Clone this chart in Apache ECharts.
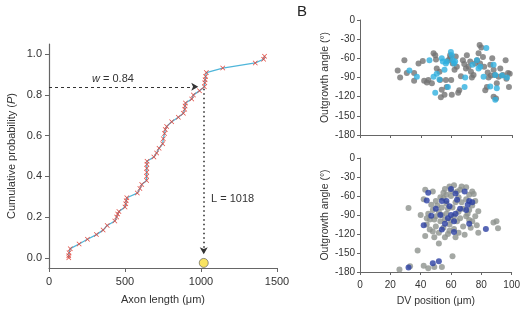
<!DOCTYPE html>
<html>
<head>
<meta charset="utf-8">
<script src="https://cdn.jsdelivr.net/npm/echarts@6/dist/echarts.min.js"></script>
<style>
  html, body { margin: 0; padding: 0; background: #fff; }
  #chart { width: 523px; height: 310px; }
</style>
</head>
<body>
<div id="chart"></div>
<script>
// panel A: cumulative curve
const axonLen = [130, 130, 132, 140, 198, 253, 312, 356, 383, 433, 445, 452, 460, 500, 505, 508, 512,
  581, 598, 610, 642, 642, 643, 643, 644, 645, 690, 708, 724, 748, 752, 760, 765, 774, 807, 851,
  884, 893, 895, 898, 939, 950, 990, 1022, 1025, 1027, 1030, 1035, 1143, 1357, 1412, 1418]
const cumProb = [0.0, 0.01, 0.025, 0.045, 0.068, 0.091, 0.114, 0.136, 0.159, 0.181, 0.2, 0.215, 0.227,
  0.25, 0.265, 0.28, 0.295, 0.318, 0.34, 0.36, 0.38, 0.4, 0.42, 0.44, 0.46, 0.474, 0.495, 0.515,
  0.538, 0.56, 0.585, 0.61, 0.63, 0.645, 0.668, 0.69, 0.71, 0.73, 0.745, 0.76, 0.78, 0.8, 0.82,
  0.84, 0.86, 0.875, 0.89, 0.91, 0.932, 0.957, 0.975, 0.99]
const wVal = 0.84
const lVal = 1018
const probTicks = [0, 0.2, 0.4, 0.6, 0.8, 1.0]

// panel B top
const topGray = [[24.8,-79],[26.4,-90],[29.2,-63],[30.8,-83],[35.6,-83],[35.6,-95],[38.5,-68],[41.3,-64],
  [42.2,-95],[44,-98],[45,-94],[47.3,-99],[48.4,-52],[49.5,-55],[50,-62],[50.5,-76],[52.3,-81],[52.7,-94],
  [53.8,-109],[53.2,-121],[55.6,-117],[56.5,-94],[57,-105],[58,-63],[59.3,-60],[59.3,-55],[60,-94],
  [60.4,-117],[61,-68],[62.2,-78],[63,-57],[63.7,-73],[64.6,-114],[65.3,-110],[66.4,-88],[67.7,-63],
  [68.6,-69],[69.7,-76],[70.3,-55],[71.4,-73],[72.5,-65],[73,-81],[73.6,-90],[74.7,-86],[75.8,-68],
  [77,-63],[78,-52],[78.7,-39],[79.8,-43],[79,-68],[80.9,-58],[81.7,-73],[82.4,-110],[83.5,-105],
  [84,-82],[84.6,-90],[85.7,-70],[86.1,-87],[87,-60],[87.9,-78],[87.9,-120],[88.6,-86],[89.5,-123],
  [90,-99],[91.2,-89],[92.3,-76],[94,-86],[95.8,-63],[96.3,-92],[97.4,-83],[98,-105],[98.5,-84]]
const topCyan = [[32.5,-79],[37.4,-89],[45.7,-63],[48.4,-89],[49.5,-114],[50.5,-84],[52.3,-93],[53.8,-60],
  [54.5,-65],[55.6,-78],[56.5,-68],[57.1,-65],[57.8,-105],[59.8,-50],[60.4,-55],[61,-63],[61.9,-68],
  [62.6,-65],[68.8,-105],[69.2,-90],[74,-70],[76.9,-63],[78,-76],[79.1,-73],[81.3,-89],[83.1,-44],
  [85.7,-104],[87.9,-70],[89,-86],[89,-125],[90,-107],[93.4,-87],[96.7,-90]]

// panel B bottom
const botGray = [[26,-176],[33,-171],[38,-146],[42,-170],[45,-174],[49,-172],[54,-172],[61,-155],[52,-135],
  [32,-79],[40,-90],[43,-50],[48,-53],[42,-65],[47,-74],[48,-82],[46,-97],[49,-97],[44,-105],[48,-116],
  [43,-123],[49,-125],[56,-49],[59,-45],[62,-43],[64,-53],[67,-45],[70,-46],[74,-53],[75,-57],[76,-68],
  [78,-84],[55,-63],[57,-72],[60,-60],[58,-80],[52,-85],[50,-92],[53,-100],[56,-97],[59,-105],[55,-110],
  [52,-118],[58,-120],[62,-112],[65,-85],[68,-80],[66,-95],[70,-92],[72,-98],[69,-121],[68,-108],
  [74,-100],[78,-118],[77,-106],[88,-102],[90,-100],[91,-111],[51,-75],[54,-78],[57,-88],[61,-78],
  [63,-70],[65,-62],[67,-70],[70,-65],[72,-58],[74,-75],[71,-88],[64,-100],[62,-92],[60,-98],[57,-58],
  [53,-62],[50,-68],[45,-88],[44,-95],[50,-108],[56,-125],[46,-113],[66,-50],[60,-52],[55,-55],[72,-82],
  [76,-92],[73,-110],[65,-118],[63,-125],[59,-115],[54,-90]]
const botBlue = [[32,-173],[48,-166],[52,-163],[45,-55],[44,-67],[47,-91],[42,-106],[60,-49],[63,-56],
  [69,-53],[72,-68],[71,-74],[54,-68],[57,-68],[64,-66],[53,-90],[60,-90],[63,-88],[62,-100],[70,-82],
  [72,-104],[54,-113],[62,-117],[83,-112],[58,-95],[66,-80],[50,-80],[56,-104],[74,-70],[59,-76]]

const font = 'Liberation Sans, Arial, sans-serif'
const axisCol = '#666'
// thin "x" marker
const crossPath = 'path://M1,0L5,4L9,0L10,1L6,5L10,9L9,10L5,6L1,10L0,9L4,5L0,1Z'

const mychart = echarts.init(document.getElementById('chart'))

function angleY(idx, showName) {
  return {
    type: 'value', gridIndex: idx, min: -180, max: 0, interval: 30,
    name: showName ? 'Outgrowth angle (°)' : '',
    nameLocation: 'middle', nameGap: 28,
    nameTextStyle: { fontFamily: font, fontSize: 10.5, color: '#333' },
    axisLine: { show: true, lineStyle: { color: axisCol, width: 1 } },
    axisTick: { show: true, length: 3, lineStyle: { color: axisCol } },
    axisLabel: { fontFamily: font, fontSize: 10, color: '#333', margin: 5 },
    splitLine: { show: false },
  }
}
function dvX(idx, labels) {
  return {
    type: 'value', gridIndex: idx, min: 0, max: 100, interval: 20,
    name: labels ? 'DV position (μm)' : '',
    nameLocation: 'middle', nameGap: 24,
    nameTextStyle: { fontFamily: font, fontSize: 10.5, color: '#333' },
    axisLine: { show: true, onZero: false, lineStyle: { color: axisCol, width: 1 } },
    axisTick: { show: true, length: 3, lineStyle: { color: axisCol } },
    axisLabel: { show: labels, fontFamily: font, fontSize: 10, color: '#333', margin: 8 },
    splitLine: { show: false },
  }
}

mychart.setOption({
  animation: false,
  grid: [
    { left: 49, top: 44, width: 228, height: 228 },
    { left: 360, top: 20, width: 152, height: 115 },
    { left: 360, top: 158, width: 152, height: 114 },
  ],
  xAxis: [
    {
      type: 'value', gridIndex: 0, min: 0, max: 1500, interval: 500,
      name: 'Axon length (μm)', nameLocation: 'middle', nameGap: 26,
      nameTextStyle: { fontFamily: font, fontSize: 11, color: '#333' },
      axisLine: { show: true, onZero: false, lineStyle: { color: axisCol, width: 1.2 } },
      axisTick: { show: true, length: 4, lineStyle: { color: axisCol } },
      axisLabel: { fontFamily: font, fontSize: 11, color: '#333', margin: 8, formatter: v => String(v) },
      splitLine: { show: false },
    },
    dvX(1, false),
    dvX(2, true),
  ],
  yAxis: [
    {
      type: 'value', gridIndex: 0, min: -0.05, max: 1.05,
      name: 'Cumulative probability ({i|P})', nameLocation: 'middle', nameGap: 32,
      nameTextStyle: { fontFamily: font, fontSize: 11, color: '#333',
        rich: { i: { fontFamily: font, fontSize: 11, fontStyle: 'italic', color: '#333' } } },
      axisLine: { show: true, lineStyle: { color: axisCol, width: 1.2 } },
      axisTick: { show: true, length: 4, customValues: probTicks, lineStyle: { color: axisCol } },
      axisLabel: { fontFamily: font, fontSize: 11, color: '#333', margin: 7,
        customValues: probTicks, formatter: v => v.toFixed(1) },
      splitLine: { show: false },
    },
    angleY(1, true),
    angleY(2, true),
  ],
  graphic: [
    { type: 'text', left: 297, top: 4,
      style: { text: 'B', fontFamily: font, fontSize: 15, fill: '#222' } },
    { type: 'text', left: 92, top: 73,
      style: { text: '{i|w} = 0.84', fontFamily: font, fontSize: 11, fill: '#333',
        rich: { i: { fontStyle: 'italic', fontFamily: font, fontSize: 11, fill: '#333' } } } },
    { type: 'text', left: 211, top: 193,
      style: { text: 'L = ' + lVal, fontFamily: font, fontSize: 11, fill: '#333' } },
  ],
  series: [
    {
      type: 'line', xAxisIndex: 0, yAxisIndex: 0,
      data: axonLen.map((x, i) => [x, cumProb[i]]),
      lineStyle: { color: '#4fb6da', width: 1.3 },
      symbol: crossPath, symbolSize: 5,
      itemStyle: { color: '#e2483e', borderWidth: 0 },
      markLine: {
        silent: true, symbol: ['none', 'arrow'], symbolSize: [6, 7],
        label: { show: false },
        data: [
          [{ coord: [0, wVal], lineStyle: { type: [3, 3], color: '#333', width: 1.2 } },
            { coord: [982, wVal] }],
          [{ coord: [lVal, wVal - 0.01], lineStyle: { type: [1.5, 3], color: '#333', width: 1.6 } },
            { coord: [lVal, 0.018] }],
        ],
      },
      z: 3,
    },
    {
      type: 'scatter', xAxisIndex: 0, yAxisIndex: 0,
      data: [[lVal, -0.025]], symbolSize: 9,
      itemStyle: { color: '#f6dc3a', borderColor: '#555', borderWidth: 0.8 },
    },
    {
      type: 'scatter', xAxisIndex: 1, yAxisIndex: 1, data: topGray, symbolSize: 6,
      itemStyle: { color: '#737373' },
    },
    {
      type: 'scatter', xAxisIndex: 1, yAxisIndex: 1, data: topCyan, symbolSize: 6,
      itemStyle: { color: '#2fb0e0' },
    },
    {
      type: 'scatter', xAxisIndex: 2, yAxisIndex: 2, data: botGray, symbolSize: 6,
      itemStyle: { color: '#8d928d' },
    },
    {
      type: 'scatter', xAxisIndex: 2, yAxisIndex: 2, data: botBlue, symbolSize: 6,
      itemStyle: { color: '#2c40a2' },
    },
  ],
})
</script>
</body>
</html>
